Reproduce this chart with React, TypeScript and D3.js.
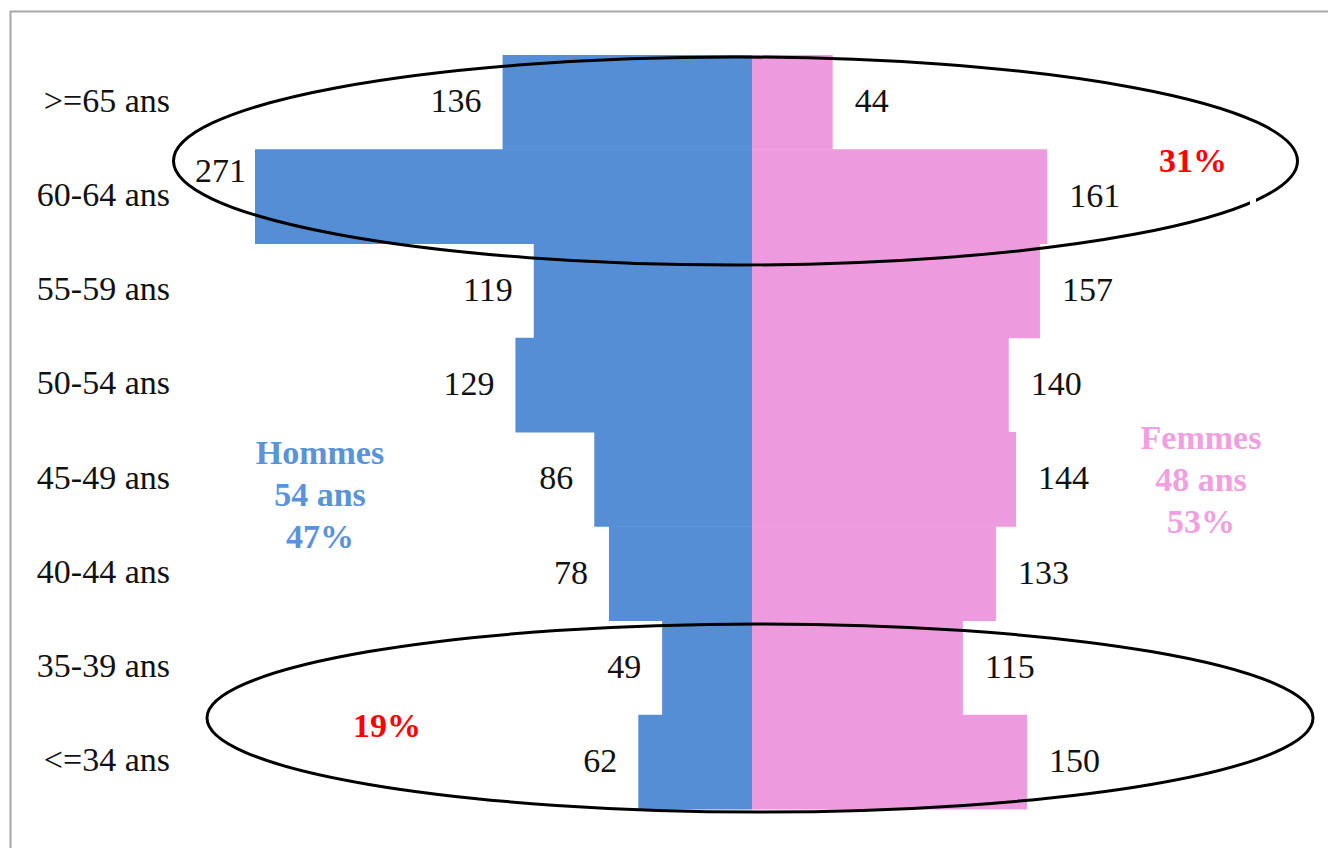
import { useEffect, useRef } from 'react';
import * as d3 from 'd3';

const categories = ['>=65 ans', '60-64 ans', '55-59 ans', '50-54 ans', '45-49 ans', '40-44 ans', '35-39 ans', '<=34 ans'];
const hommes = [136, 271, 119, 129, 86, 78, 49, 62];
const femmes = [44, 161, 157, 140, 144, 133, 115, 150];
const hommesLabel = ['Hommes', '54 ans', '47%'];
const femmesLabel = ['Femmes', '48 ans', '53%'];
const topGroupShare = '31%';
const bottomGroupShare = '19%';

const width = 1328;
const height = 848;

export default function App() {
  const svgRef = useRef<SVGSVGElement>(null);

  useEffect(() => {
    const svg = d3.select(svgRef.current);
    svg.selectAll('*').remove();

    const font = '"Liberation Serif", "DejaVu Serif", serif';
    const blue = '#558ED5';
    const pink = '#EE9ADF';
    const center = 752;

    const y = d3.scaleBand<string>()
      .domain(categories)
      .range([55, 809])
      .padding(0);

    // same scale for both sides, mirrored around the center line
    const x = d3.scaleLinear().domain([0, 271]).range([0, 497]);

    // frame (only left and top edges visible)
    svg.append('rect')
      .attr('x', 10.5)
      .attr('y', 11.5)
      .attr('width', width + 20)
      .attr('height', height + 20)
      .attr('fill', 'white')
      .attr('stroke', '#a6a6a6')
      .attr('stroke-width', 2);

    const g = svg.append('g');

    // Hommes bars
    g.selectAll('.bar-h')
      .data(categories)
      .enter().append('rect')
      .attr('x', (d, i) => center - x(hommes[i]))
      .attr('y', d => y(d)!)
      .attr('width', (d, i) => x(hommes[i]))
      .attr('height', y.bandwidth() + 0.5)
      .attr('fill', blue);

    // Femmes bars
    g.selectAll('.bar-f')
      .data(categories)
      .enter().append('rect')
      .attr('x', center)
      .attr('y', d => y(d)!)
      .attr('width', (d, i) => x(femmes[i]))
      .attr('height', y.bandwidth() + 0.5)
      .attr('fill', pink);

    // category labels
    g.selectAll('.cat')
      .data(categories)
      .enter().append('text')
      .attr('x', 170)
      .attr('y', d => y(d)! + y.bandwidth() / 2)
      .attr('dy', '0.28em')
      .attr('text-anchor', 'end')
      .style('font-family', font)
      .style('font-size', '34px')
      .style('fill', '#111')
      .text(d => d);

    // value labels; 271 is nudged up to clear the ellipse
    const shift: Record<number, [number, number]> = { 1: [12, -25] };

    g.selectAll('.val-h')
      .data(categories)
      .enter().append('text')
      .attr('x', (d, i) => center - x(hommes[i]) - 21 + (shift[i]?.[0] ?? 0))
      .attr('y', (d, i) => y(d)! + y.bandwidth() / 2 + (shift[i]?.[1] ?? 0))
      .attr('dy', '0.3em')
      .attr('text-anchor', 'end')
      .style('font-family', font)
      .style('font-size', '34px')
      .style('fill', '#111')
      .text((d, i) => hommes[i]);

    g.selectAll('.val-f')
      .data(categories)
      .enter().append('text')
      .attr('x', (d, i) => center + x(femmes[i]) + 22)
      .attr('y', d => y(d)! + y.bandwidth() / 2)
      .attr('dy', '0.3em')
      .attr('text-anchor', 'start')
      .style('font-family', font)
      .style('font-size', '34px')
      .style('fill', '#111')
      .text((d, i) => femmes[i]);

    // ellipses around the oldest and youngest groups
    g.append('ellipse')
      .attr('cx', 735.5)
      .attr('cy', 161)
      .attr('rx', 562)
      .attr('ry', 104)
      .attr('fill', 'none')
      .attr('stroke', '#000')
      .attr('stroke-width', 3);

    g.append('ellipse')
      .attr('cx', 760)
      .attr('cy', 718)
      .attr('rx', 553)
      .attr('ry', 94)
      .attr('fill', 'none')
      .attr('stroke', '#000')
      .attr('stroke-width', 3);

    // small break in the top ellipse
    g.append('rect')
      .attr('x', 1250)
      .attr('y', 196)
      .attr('width', 6)
      .attr('height', 10)
      .attr('fill', 'white');

    const bold = (txt: string, cx: number, cy: number, color: string) =>
      g.append('text')
        .attr('x', cx)
        .attr('y', cy)
        .attr('dy', '0.32em')
        .attr('text-anchor', 'middle')
        .style('font-family', font)
        .style('font-size', '34px')
        .style('font-weight', 'bold')
        .style('fill', color)
        .text(txt);

    hommesLabel.forEach((t, i) => bold(t, 320, 453 + i * 42, '#5B93D8'));
    femmesLabel.forEach((t, i) => bold(t, 1201, 438 + i * 42, '#F0A0E0'));
    bold(topGroupShare, 1193, 161, '#FF0000');
    bold(bottomGroupShare, 387, 726, '#FF0000');
  }, []);

  return (
    <div style={{ position: 'absolute', left: 0, top: 0 }}>
      <svg ref={svgRef} width={width} height={height} style={{ display: 'block' }} />
    </div>
  );
}
